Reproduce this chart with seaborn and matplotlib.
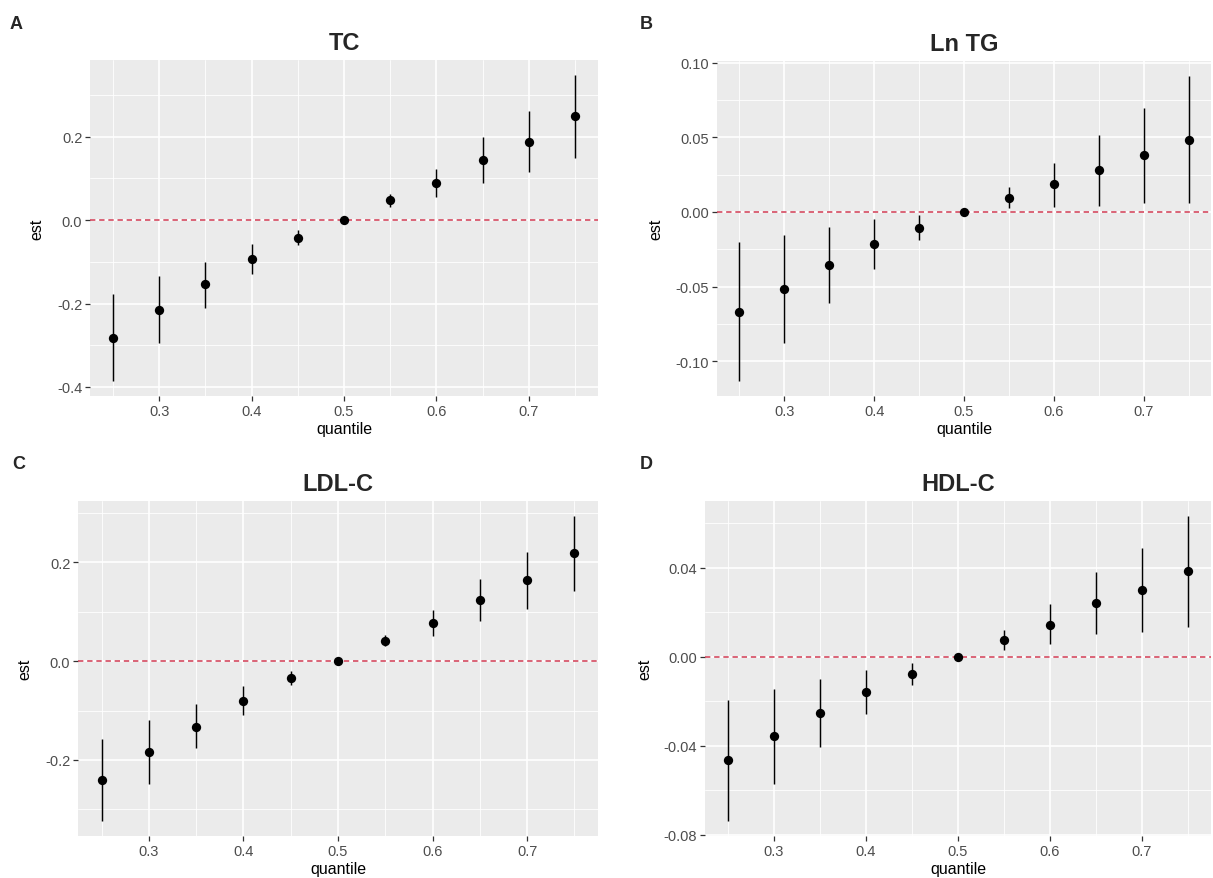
import numpy as np
import pandas as pd
import matplotlib
matplotlib.use("Agg")
import matplotlib.pyplot as plt
import seaborn as sns

quantile = [0.25, 0.30, 0.35, 0.40, 0.45, 0.50, 0.55, 0.60, 0.65, 0.70, 0.75]

tc_est = [-0.282, -0.216, -0.153, -0.094, -0.042, 0.000, 0.048, 0.090, 0.144, 0.188, 0.249]
tc_lo = [-0.385, -0.294, -0.211, -0.130, -0.060, -0.004, 0.032, 0.055, 0.090, 0.115, 0.149]
tc_hi = [-0.178, -0.134, -0.100, -0.057, -0.023, 0.004, 0.063, 0.123, 0.199, 0.261, 0.347]

tg_est = [-0.0668, -0.0514, -0.0356, -0.0216, -0.0107, 0.0003, 0.0096, 0.0185, 0.0278, 0.0381, 0.0481]
tg_lo = [-0.1130, -0.0877, -0.0608, -0.0383, -0.0185, -0.0008, 0.0024, 0.0031, 0.0040, 0.0062, 0.0062]
tg_hi = [-0.0203, -0.0154, -0.0102, -0.0049, -0.0020, 0.0012, 0.0167, 0.0327, 0.0517, 0.0699, 0.0909]

ldl_est = [-0.2404, -0.184, -0.133, -0.080, -0.034, 0.001, 0.040, 0.078, 0.124, 0.164, 0.218]
ldl_lo = [-0.323, -0.249, -0.176, -0.109, -0.049, -0.004, 0.030, 0.050, 0.082, 0.106, 0.141]
ldl_hi = [-0.157, -0.120, -0.087, -0.050, -0.021, 0.005, 0.053, 0.104, 0.166, 0.220, 0.293]

hdl_est = [-0.0465, -0.0357, -0.0251, -0.0158, -0.0076, 0.0000, 0.0075, 0.0143, 0.0242, 0.0300, 0.0383]
hdl_lo = [-0.0737, -0.0572, -0.0406, -0.0256, -0.0129, -0.0008, 0.0031, 0.0057, 0.0100, 0.0111, 0.0134]
hdl_hi = [-0.0193, -0.0143, -0.0100, -0.0061, -0.0028, 0.0008, 0.0118, 0.0236, 0.0381, 0.0490, 0.0631]

titles = ["TC", "Ln TG", "LDL-C", "HDL-C"]
letters = ["A", "B", "C", "D"]
x_ticks = [0.3, 0.4, 0.5, 0.6, 0.7]
y_ticks_tc = [-0.4, -0.2, 0.0, 0.2]
y_ticks_tg = [-0.10, -0.05, 0.00, 0.05, 0.10]
y_ticks_ldl = [-0.2, 0.0, 0.2]
y_ticks_hdl = [-0.08, -0.04, 0.00, 0.04]
y_fmt = ["{:.1f}", "{:.2f}", "{:.1f}", "{:.2f}"]

sns.set_theme(style="white")
plt.rcParams["font.family"] = ["Liberation Sans", "DejaVu Sans"]

W, H = 1213, 879
fig = plt.figure(figsize=(W / 100, H / 100), dpi=100)

# axes boxes in pixels: left, right, top, bottom
boxes = [(90, 598, 61, 397), (717, 1211, 62, 397), (78, 598, 502, 837), (705, 1211, 502, 837)]
ylab_off = [46, 54, 46, 53]
letter_pos = [(10, 29), (640, 29), (12, 469), (640, 469)]

panels = [
    (tc_est, tc_lo, tc_hi, y_ticks_tc),
    (tg_est, tg_lo, tg_hi, y_ticks_tg),
    (ldl_est, ldl_lo, ldl_hi, y_ticks_ldl),
    (hdl_est, hdl_lo, hdl_hi, y_ticks_hdl),
]

for i, (est, lo, hi, yt) in enumerate(panels):
    l, r, t, b = boxes[i]
    ax = fig.add_axes([l / W, 1 - b / H, (r - l) / W, (b - t) / H])
    ax.set_facecolor("#EBEBEB")
    for s in ax.spines.values():
        s.set_visible(False)
    df = pd.DataFrame({"quantile": quantile, "est": est, "lo": lo, "hi": hi})

    ax.axhline(0, color="#D03A52", linestyle=(0, (3.5, 2.5)), linewidth=1.1, zorder=2)
    ax.vlines(df["quantile"], df["lo"], df["hi"], color="black", linewidth=1.05, zorder=3)
    sns.scatterplot(data=df, x="quantile", y="est", color="black", s=45,
                    edgecolor="black", linewidth=0, ax=ax, zorder=4)

    xmin, xmax = min(quantile), max(quantile)
    xr = xmax - xmin
    ymin, ymax = min(lo), max(hi)
    yr = ymax - ymin

    ax.set_xticks(x_ticks)
    ax.set_xticklabels([f"{v:.1f}" for v in x_ticks])
    ax.set_yticks(yt)
    ax.set_yticklabels([y_fmt[i].format(v) for v in yt])
    xminor = [v - 0.05 for v in x_ticks] + [x_ticks[-1] + 0.05]
    ystep = yt[1] - yt[0]
    yminor = [v - ystep / 2 for v in yt] + [yt[-1] + ystep / 2]
    ax.set_xticks(xminor, minor=True)
    ax.set_yticks(yminor, minor=True)
    # ggplot-style 5% expansion (set after drawing)
    ax.set_xlim(xmin - 0.05 * xr, xmax + 0.05 * xr)
    ax.set_ylim(ymin - 0.05 * yr, ymax + 0.05 * yr)
    ax.grid(which="major", color="white", linewidth=1.2)
    ax.grid(which="minor", color="white", linewidth=0.6)
    ax.set_axisbelow(True)
    ax.tick_params(which="major", length=3.5, width=0.9, color="#333333",
                   labelsize=10.5, labelcolor="#4D4D4D", pad=2, bottom=True, left=True)
    ax.tick_params(which="minor", length=0)

    ax.set_xlabel("quantile", fontsize=11.5, color="black")
    ax.set_ylabel("est", fontsize=11.5, color="black")
    ax.xaxis.set_label_coords(0.5, -25 / (b - t))
    ax.yaxis.set_label_coords(-ylab_off[i] / (r - l), 0.5)
    ax.set_title(titles[i], fontsize=17, fontweight="bold", pad=8)

    lx, ly = letter_pos[i]
    fig.text(lx / W, 1 - ly / H, letters[i], fontsize=13, fontweight="bold",
             ha="left", va="baseline")

fig.savefig("out.png", dpi=100)
